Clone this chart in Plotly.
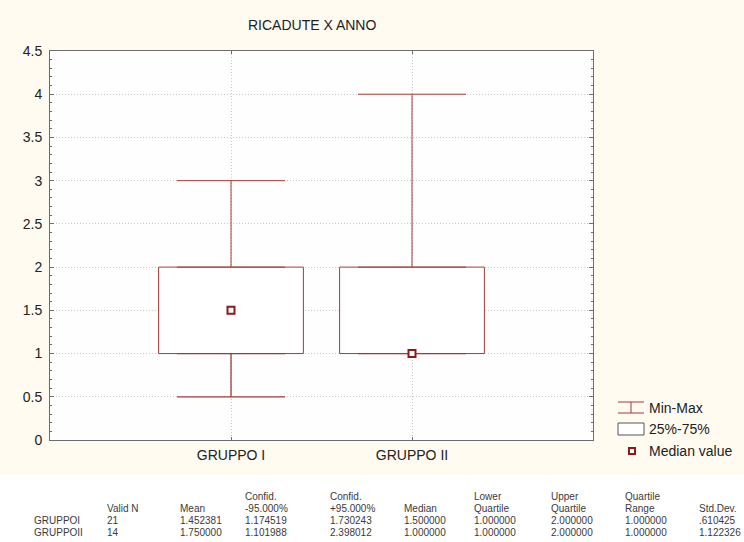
import plotly.graph_objects as go

# ---------------- data ----------------
groups = ["GRUPPO I", "GRUPPO II"]
mins = [0.5, 1.0]
q1s = [1.0, 1.0]
medians = [1.5, 1.0]
q3s = [2.0, 2.0]
maxs = [3.0, 4.0]

y_ticks = [0, 0.5, 1, 1.5, 2, 2.5, 3, 3.5, 4, 4.5]

table_rows = ["GRUPPOI", "GRUPPOII"]
table_cols = [
    (["", "Valid N"], ["21", "14"]),
    (["", "Mean"], ["1.452381", "1.750000"]),
    (["Confid.", "-95.000%"], ["1.174519", "1.101988"]),
    (["Confid.", "+95.000%"], ["1.730243", "2.398012"]),
    (["", "Median"], ["1.500000", "1.000000"]),
    (["Lower", "Quartile"], ["1.000000", "1.000000"]),
    (["Upper", "Quartile"], ["2.000000", "2.000000"]),
    (["Quartile", "Range"], ["1.000000", "1.000000"]),
    (["", "Std.Dev."], [".610425", "1.122326"]),
]

# ---------------- style ----------------
W, H = 744, 542
L, R, T, B = 50, 593, 51, 440
RED = "#A33B3B"
DARKRED = "#8B1A1A"
CREAM = "#FFFBF0"
AXIS = "#6E6E6E"
GRID = "#C9C9C9"
FONT = "Liberation Sans, Arial, sans-serif"


def px_x(px):
    return (px - L) / (R - L)


def px_y(py):
    return (B - py) / (B - T)


fig = go.Figure()

# box (25%-75%)
fig.add_trace(go.Bar(
    x=groups, y=[b - a for a, b in zip(q1s, q3s)], base=q1s, width=0.8,
    marker=dict(color="white", line=dict(color=RED, width=1)),
    showlegend=False, hoverinfo="skip",
))
# upper whisker
fig.add_trace(go.Scatter(
    x=groups, y=q3s, mode="markers", marker=dict(size=1, opacity=0),
    error_y=dict(type="data", symmetric=False,
                 array=[m - q for m, q in zip(maxs, q3s)],
                 arrayminus=[0, 0], color=RED, thickness=1, width=54),
    showlegend=False, hoverinfo="skip",
))
# lower whisker
fig.add_trace(go.Scatter(
    x=groups, y=q1s, mode="markers", marker=dict(size=1, opacity=0),
    error_y=dict(type="data", symmetric=False, array=[0, 0],
                 arrayminus=[q - m for q, m in zip(q1s, mins)],
                 color=RED, thickness=1.3, width=54),
    showlegend=False, hoverinfo="skip",
))
# median
fig.add_trace(go.Scatter(
    x=groups, y=medians, mode="markers",
    marker=dict(symbol="square", size=7, color="white",
                line=dict(color=DARKRED, width=2)),
    showlegend=False, hoverinfo="skip",
))

shapes = []
annotations = []

# white table area at bottom
shapes.append(dict(type="rect", xref="paper", yref="paper", layer="below",
                   x0=px_x(0), x1=px_x(W), y0=px_y(W), y1=px_y(475),
                   fillcolor="white", line=dict(width=0)))

# manual legend
shapes += [
    dict(type="line", xref="paper", yref="paper", x0=px_x(618), x1=px_x(644),
         y0=px_y(402), y1=px_y(402), line=dict(color=RED, width=1)),
    dict(type="line", xref="paper", yref="paper", x0=px_x(618), x1=px_x(644),
         y0=px_y(413), y1=px_y(413), line=dict(color=RED, width=1)),
    dict(type="line", xref="paper", yref="paper", x0=px_x(631), x1=px_x(631),
         y0=px_y(402), y1=px_y(413), line=dict(color=RED, width=1)),
    dict(type="rect", xref="paper", yref="paper", x0=px_x(618), x1=px_x(644),
         y0=px_y(435), y1=px_y(423), fillcolor="white",
         line=dict(color="#555555", width=1)),
    dict(type="rect", xref="paper", yref="paper", x0=px_x(629), x1=px_x(635),
         y0=px_y(454), y1=px_y(448), fillcolor="white",
         line=dict(color=DARKRED, width=2)),
]
for label, py in [("Min-Max", 408), ("25%-75%", 429), ("Median value", 451)]:
    annotations.append(dict(text=label, xref="paper", yref="paper",
                            x=px_x(647), y=px_y(py), xanchor="left",
                            yanchor="middle", showarrow=False,
                            font=dict(size=14, color="#222222", family=FONT)))

# title
annotations.append(dict(text="RICADUTE X ANNO", xref="paper", yref="paper",
                        x=px_x(311.5), y=px_y(25), xanchor="center",
                        yanchor="middle", showarrow=False,
                        font=dict(size=14, color="#222222", family=FONT)))

# statistics table
col_x = [105, 178, 243, 328, 402, 472, 549, 623, 697]
row_y = [520, 532]
head_y = [496, 508]
TFONT = dict(size=10, color="#3A3A3A", family=FONT)
for lbl, py in zip(table_rows, row_y):
    annotations.append(dict(text=lbl, xref="paper", yref="paper",
                            x=px_x(32), y=px_y(py), xanchor="left",
                            yanchor="middle", showarrow=False, font=TFONT))
for (heads, vals), cx in zip(table_cols, col_x):
    for h, hy in zip(heads, head_y):
        if h:
            annotations.append(dict(text=h, xref="paper", yref="paper",
                                    x=px_x(cx), y=px_y(hy), xanchor="left",
                                    yanchor="middle", showarrow=False,
                                    font=TFONT))
    for v, py in zip(vals, row_y):
        annotations.append(dict(text=v, xref="paper", yref="paper",
                                x=px_x(cx), y=px_y(py), xanchor="left",
                                yanchor="middle", showarrow=False,
                                font=TFONT))

fig.update_layout(
    width=W, height=H, autosize=False,
    margin=dict(l=L, r=W - R, t=T, b=H - B, pad=0),
    paper_bgcolor=CREAM, plot_bgcolor="#FEFEFE",
    barmode="overlay", showlegend=False,
    font=dict(family=FONT, size=14, color="#222222"),
    shapes=shapes, annotations=annotations,
    xaxis=dict(type="category", range=[-1, 2], showgrid=True,
               gridcolor=GRID, griddash="1px,2px", gridwidth=1,
               showline=True, linecolor=AXIS, linewidth=1, mirror="allticks",
               ticks="inside", ticklen=3, tickcolor=AXIS, zeroline=False,
               ticklabelstandoff=2,
               tickfont=dict(size=14, color="#222222", family=FONT)),
    yaxis=dict(range=[0, 4.5], tickvals=y_ticks,
               ticktext=[f"{v:g}" for v in y_ticks],
               showgrid=True, gridcolor=GRID, griddash="1px,2px", gridwidth=1,
               showline=True, linecolor=AXIS, linewidth=1, mirror="allticks",
               ticks="inside", ticklen=4, tickcolor=AXIS, zeroline=False,
               ticklabelstandoff=4,
               minor=dict(dtick=0.1, ticks="inside", ticklen=2,
                          tickcolor=AXIS, showgrid=False),
               tickfont=dict(size=14, color="#222222", family=FONT)),
)

fig.write_html("out.html",
               config={"displayModeBar": False},
               post_script="document.body.style.margin='0';"
                           "document.body.style.overflow='hidden';")
